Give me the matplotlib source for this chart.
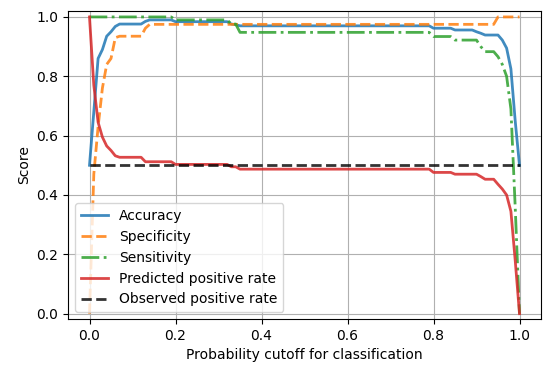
import numpy as np
import matplotlib
matplotlib.use("Agg")
import matplotlib.pyplot as plt

# cutoffs 0.00 .. 1.00 in steps of 0.01
cutoff = np.linspace(0, 1, 101)

accuracy = ([0.50, 0.68, 0.86, 0.89, 0.935, 0.95, 0.968] + [0.976] * 6 + [0.985]
            + [0.99] * 6 + [0.984] * 13 + [0.976, 0.974] + [0.97] * 45
            + [0.962] * 5 + [0.956] * 5 + [0.95, 0.945] + [0.939] * 4
            + [0.922, 0.895, 0.825, 0.65, 0.50])

specificity = ([0.0, 0.47, 0.63, 0.76, 0.84, 0.86, 0.93] + [0.935] * 6 + [0.962]
               + [0.975] * 81 + [1.0] * 6)

sensitivity = ([1.0] * 20 + [0.99] * 13 + [0.976, 0.976] + [0.948] * 45
               + [0.934] * 5 + [0.922] * 6 + [0.90] + [0.883] * 3
               + [0.866, 0.84, 0.80, 0.69, 0.36, 0.0])

pred_pos = ([1.0, 0.77, 0.645, 0.595, 0.565, 0.55, 0.532] + [0.527] * 6
            + [0.512] * 7 + [0.503] * 13 + [0.495, 0.495] + [0.487] * 45
            + [0.476] * 5 + [0.47] * 6 + [0.462] + [0.453] * 3
            + [0.436, 0.42, 0.40, 0.345, 0.18, 0.0])

obs_pos = [0.5] * 101

fig = plt.figure(figsize=(5.43, 3.67), dpi=100)
ax = fig.add_axes([68 / 543, 48 / 367, 473 / 543, 308 / 367])

ax.plot(cutoff, accuracy, '-', color='tab:blue', lw=2, alpha=0.85, label='Accuracy')
ax.plot(cutoff, specificity, '--', color='tab:orange', lw=2, alpha=0.85, label='Specificity')
ax.plot(cutoff, sensitivity, '-.', color='tab:green', lw=2, alpha=0.85, label='Sensitivity')
ax.plot(cutoff, pred_pos, '-', color='tab:red', lw=2, alpha=0.85, label='Predicted positive rate')
ax.plot(cutoff, obs_pos, '--', color='k', lw=2, alpha=0.8, label='Observed positive rate')

ax.set_xlim(-0.05, 1.05)
ax.set_ylim(-0.018, 1.02)
ax.set_xticks([0.0, 0.2, 0.4, 0.6, 0.8, 1.0])
ax.set_yticks([0.0, 0.2, 0.4, 0.6, 0.8, 1.0])
ax.set_xlabel('Probability cutoff for classification')
ax.set_ylabel('Score')
ax.grid()
ax.legend(loc='lower left')

fig.savefig('out.png', dpi=100)
